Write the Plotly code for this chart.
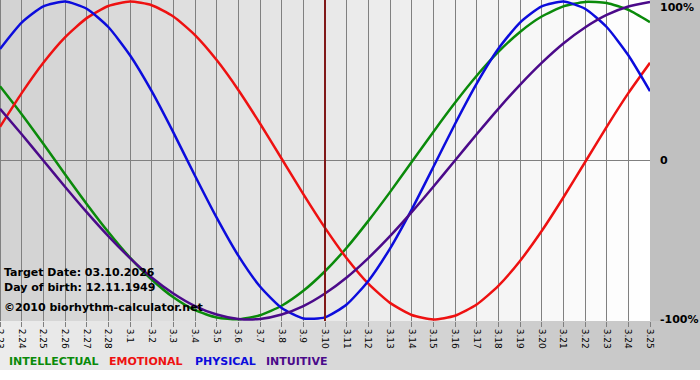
import plotly.graph_objects as go

# ---- data ----
dates = ["2.23", "2.24", "2.25", "2.26", "2.27", "2.28",
         "3.1", "3.2", "3.3", "3.4", "3.5", "3.6", "3.7", "3.8", "3.9", "3.10",
         "3.11", "3.12", "3.13", "3.14", "3.15", "3.16", "3.17", "3.18", "3.19",
         "3.20", "3.21", "3.22", "3.23", "3.24", "3.25"]
day_index = list(range(len(dates)))
target_index = 15  # 3.10

intellectual = [0.467, 0.291, 0.105, -0.086, -0.273, -0.450, -0.611, -0.749, -0.861, -0.942,
                -0.988, -0.999, -0.974, -0.914, -0.820, -0.697, -0.549, -0.380, -0.199, -0.010,
                0.180, 0.363, 0.533, 0.683, 0.809, 0.906, 0.970, 0.998, 0.991, 0.948, 0.871]
emotional = [0.212, 0.424, 0.615, 0.775, 0.896, 0.972, 1.000, 0.977, 0.906, 0.789,
             0.632, 0.444, 0.233, 0.011, -0.212, -0.424, -0.615, -0.775, -0.896, -0.972,
             -1.000, -0.977, -0.906, -0.789, -0.632, -0.444, -0.233, -0.011, 0.212, 0.424, 0.615]
physical = [0.702, 0.868, 0.970, 1.000, 0.955, 0.840, 0.662, 0.436, 0.177, -0.096,
            -0.360, -0.599, -0.793, -0.928, -0.994, -0.987, -0.906, -0.758, -0.554, -0.309,
            -0.041, 0.230, 0.484, 0.703, 0.868, 0.970, 1.000, 0.955, 0.840, 0.662, 0.436]
intuitive = [0.325, 0.165, 0.000, -0.165, -0.325, -0.476, -0.614, -0.736, -0.837, -0.916,
             -0.969, -0.997, -0.997, -0.969, -0.916, -0.837, -0.736, -0.614, -0.476, -0.325,
             -0.165, 0.000, 0.165, 0.325, 0.476, 0.614, 0.736, 0.837, 0.916, 0.969, 0.997]

series_names = ["INTELLECTUAL", "EMOTIONAL", "PHYSICAL", "INTUITIVE"]
series_values = [intellectual, emotional, physical, intuitive]
series_colors = ["#0a8a0a", "#ee1111", "#0c0cdc", "#4b0a8a"]

info_lines = ["Target Date: 03.10.2026", "Day of birth: 12.11.1949", "\u00a92010 biorhythm-calculator.net"]
right_labels = ["100%", "0", "-100%"]

# ---- geometry ----
W, H = 700, 380
ML, MR, MT, MB = 0, 50, 0, 59
PW = W - ML - MR
PH = H - MT - MB


def px_x(p):
    return (p - ML) / PW


def px_y(p):
    return 1 - (p - MT) / PH


def grey(v):
    v = int(round(v))
    return f"rgb({v},{v},{v})"


fig = go.Figure()
for name, vals, col in zip(series_names, series_values, series_colors):
    fig.add_trace(go.Scatter(x=day_index, y=vals, mode="lines", name=name,
                             line=dict(color=col, width=2.5, shape="spline", smoothing=0.6),
                             hoverinfo="skip", showlegend=False))

shapes = []
# plot-area horizontal gradient
n = 65
for i in range(n):
    c = 210 + (255 - 210) * (i + 0.5) / n
    shapes.append(dict(type="rect", xref="paper", yref="paper", x0=i / n, x1=(i + 1) / n + 0.002,
                       y0=0, y1=1, fillcolor=grey(c), line=dict(width=0), layer="below"))
# right margin
shapes.append(dict(type="rect", xref="paper", yref="paper", x0=1, x1=px_x(W) + 0.01,
                   y0=0, y1=1.01, fillcolor="#c0c0c0", line=dict(width=0), layer="below"))
# bottom band gradient
m = 70
for i in range(m):
    c = 236 + (196 - 236) * (i + 0.5) / m
    shapes.append(dict(type="rect", xref="paper", yref="paper", x0=px_x(i * W / m), x1=px_x((i + 1) * W / m) + 0.002,
                       y0=px_y(370), y1=0, fillcolor=grey(c), line=dict(width=0), layer="below"))
# target date line
shapes.append(dict(type="line", xref="x", yref="paper", x0=day_index[target_index], x1=day_index[target_index],
                   y0=0, y1=1, line=dict(color="#801818", width=2)))
fig.update_layout(shapes=shapes)

annotations = []
for k, t in enumerate(info_lines):
    ypx = [272, 287, 307][k]
    annotations.append(dict(text=t, xref="paper", yref="paper", x=px_x(2), y=px_y(ypx),
                            xanchor="left", yanchor="middle", showarrow=False,
                            font=dict(family="DejaVu Sans", size=11, color="black", weight="bold")))
for t, yv in zip(right_labels, [None, 0, -1]):
    if yv is None:
        annotations.append(dict(text=t, xref="paper", yref="paper", x=px_x(658), y=px_y(7),
                                xanchor="left", yanchor="middle", showarrow=False,
                                font=dict(family="DejaVu Sans", size=11, color="black", weight="bold")))
    else:
        annotations.append(dict(text=t, xref="paper", yref="y", x=px_x(658), y=yv,
                                xanchor="left", yanchor="middle", showarrow=False,
                                font=dict(family="DejaVu Sans", size=11, color="black", weight="bold")))
for name, col, xp in zip(series_names, series_colors, [7, 107, 193, 264]):
    annotations.append(dict(text=name, xref="paper", yref="paper", x=px_x(xp), y=px_y(362),
                            xanchor="left", yanchor="middle", showarrow=False,
                            font=dict(family="DejaVu Sans", size=11, color=col, weight="bold")))
fig.update_layout(annotations=annotations)

fig.update_layout(
    width=W, height=H, autosize=False,
    margin=dict(l=ML, r=MR, t=MT, b=MB, pad=0, autoexpand=False),
    paper_bgcolor="white", plot_bgcolor="rgba(0,0,0,0)",
    xaxis=dict(range=[0, 30], tickmode="array", tickvals=day_index, ticktext=dates,
               tickangle=90, ticks="outside", ticklen=5, tickcolor="#808080",
               ticklabeloverflow="allow", automargin=False,
               showgrid=True, gridcolor="#808080", gridwidth=1,
               zeroline=True, zerolinecolor="#808080", zerolinewidth=1,
               showline=False, tickfont=dict(family="DejaVu Sans", size=9, color="black"),
               fixedrange=True),
    yaxis=dict(range=[-1.01, 1.01], showgrid=False, showticklabels=False, ticks="",
               zeroline=True, zerolinecolor="#808080", zerolinewidth=1, showline=False,
               automargin=False, fixedrange=True),
    showlegend=False,
)

fig.write_html("out.html", config={"displayModeBar": False},
               post_script="document.body.style.margin='0';document.body.style.overflow='hidden';")
